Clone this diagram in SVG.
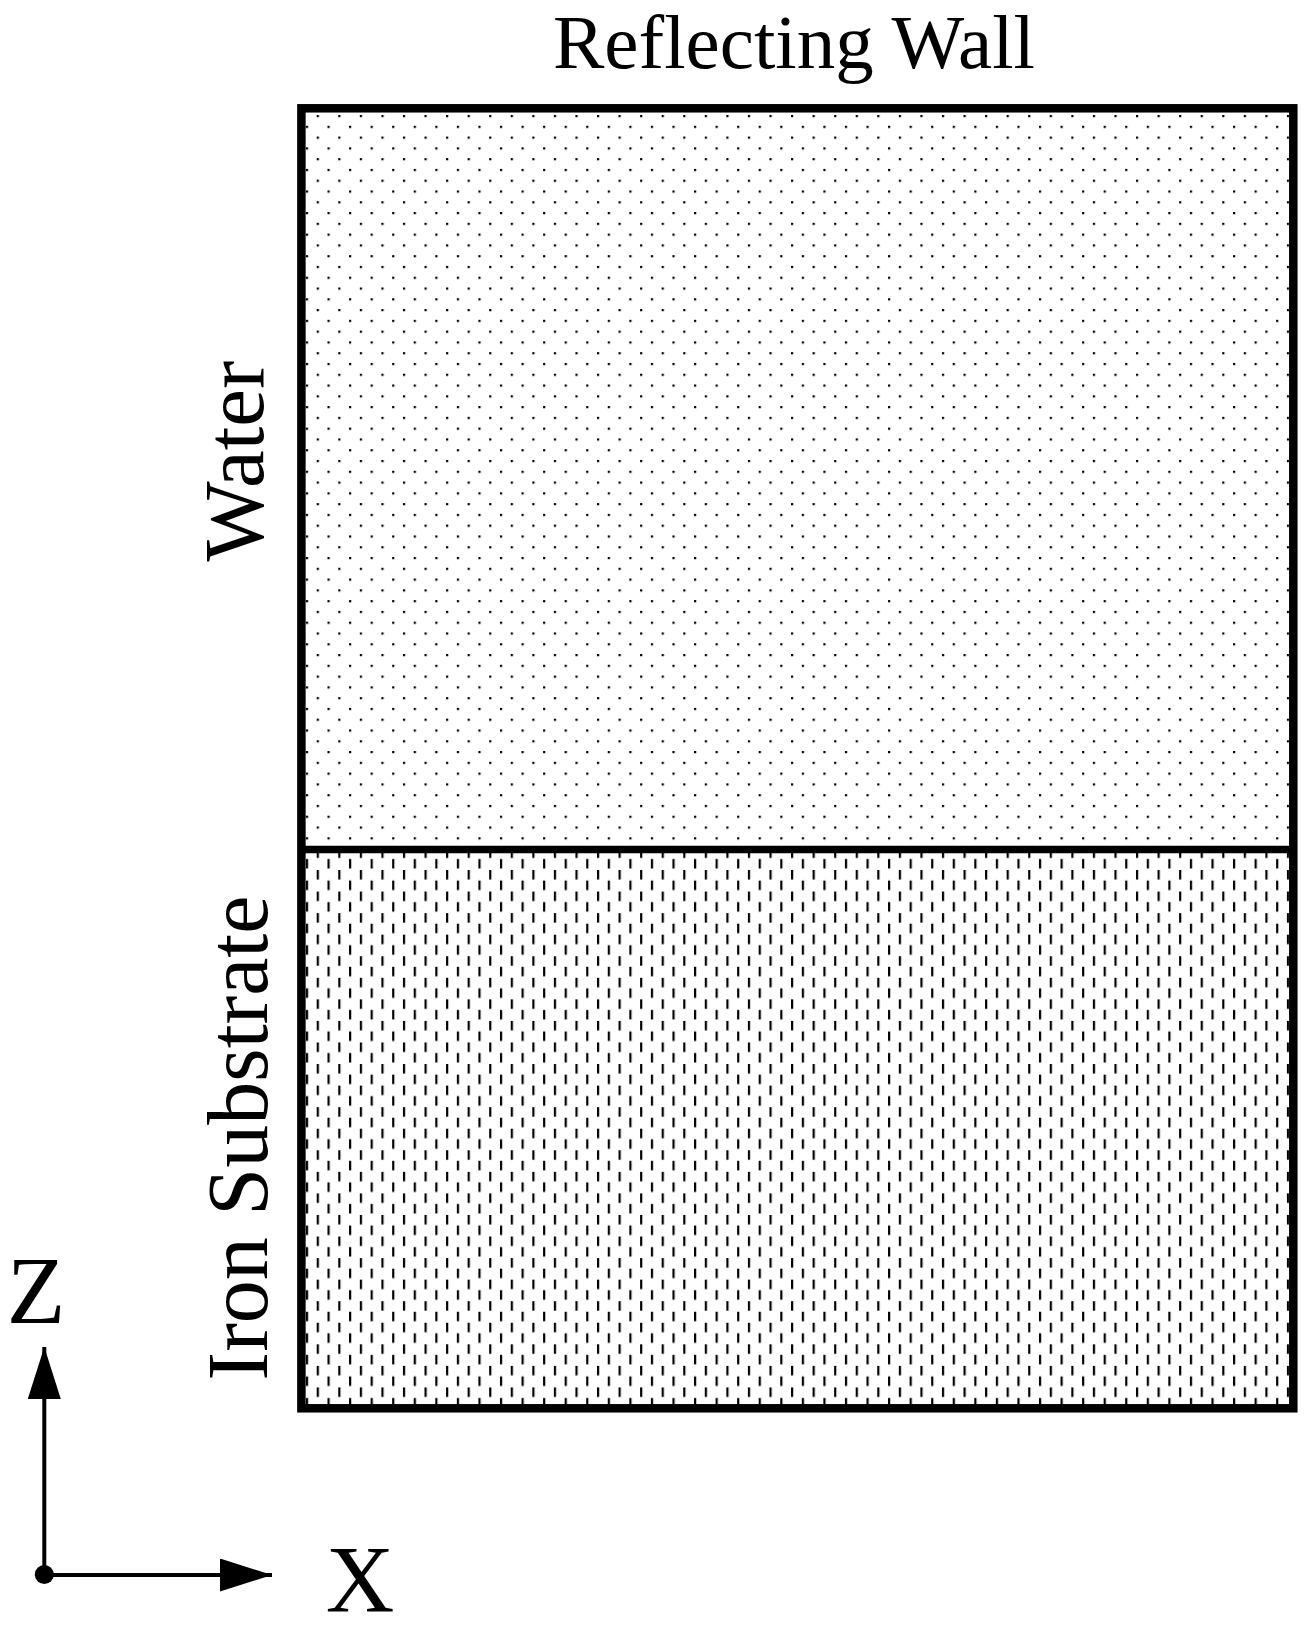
<svg xmlns="http://www.w3.org/2000/svg" width="1306" height="1633" viewBox="0 0 1306 1633">
<style>
.lbl{fill:#000;font-family:"Liberation Serif","Times New Roman",serif;}
.edge{fill:none;stroke:#000;}
.ax{stroke:#000;stroke-width:4;fill:none;}
</style>
<defs>
<pattern id="dots" patternUnits="userSpaceOnUse" x="316.7" y="115" width="21.56" height="21.56">
<rect x="0" y="0" width="2.2" height="2.2" fill="#000"/>
<rect x="10.78" y="10.78" width="2.2" height="2.2" fill="#000"/>
</pattern>
<pattern id="dashes" patternUnits="userSpaceOnUse" x="316.7" y="870" width="21.56" height="21.56">
<rect x="0" y="0" width="2.2" height="9.5" fill="#000"/>
<rect x="10.78" y="10.56" width="2.2" height="9.5" fill="#000"/>
</pattern>
<marker id="arrow" markerUnits="userSpaceOnUse" markerWidth="54" markerHeight="34" refX="52" refY="16.5" orient="auto">
<polygon points="0,0 52,16.5 0,33" fill="#000"/>
</marker>
</defs>
<rect width="1306" height="1633" fill="#fff"/>
<g id="title">
<text class="lbl" x="794" y="68" font-size="77" text-anchor="middle">Reflecting Wall</text>
</g>
<g id="water">
<rect x="301.4" y="108.3" width="991.9" height="740.9" fill="url(#dots)"/>
<text class="lbl" x="262.5" y="461" font-size="85" text-anchor="middle" transform="rotate(-90 262.5 461)">Water</text>
</g>
<g id="iron">
<rect x="301.4" y="849.2" width="991.9" height="559.1" fill="url(#dashes)"/>
<text class="lbl" x="266.5" y="1138" font-size="86" text-anchor="middle" transform="rotate(-90 266.5 1138)">Iron Substrate</text>
</g>
<g id="frame">
<rect class="edge" x="301.4" y="108.3" width="991.9" height="1300" stroke-width="8.5"/>
<line class="edge" x1="301.4" y1="849.5" x2="1293.3" y2="849.5" stroke-width="7.5"/>
</g>
<g id="connectors">
<line class="ax" x1="44.3" y1="1575" x2="44.3" y2="1347" marker-end="url(#arrow)"/>
<line class="ax" x1="44.3" y1="1575" x2="272" y2="1575" marker-end="url(#arrow)"/>
<circle cx="44.3" cy="1574.5" r="9.5" fill="#000"/>
</g>
<g id="axis-labels">
<text class="lbl" x="36" y="1322.5" font-size="96" text-anchor="middle">Z</text>
<text class="lbl" x="360" y="1612" font-size="95" text-anchor="middle">X</text>
</g>
</svg>
